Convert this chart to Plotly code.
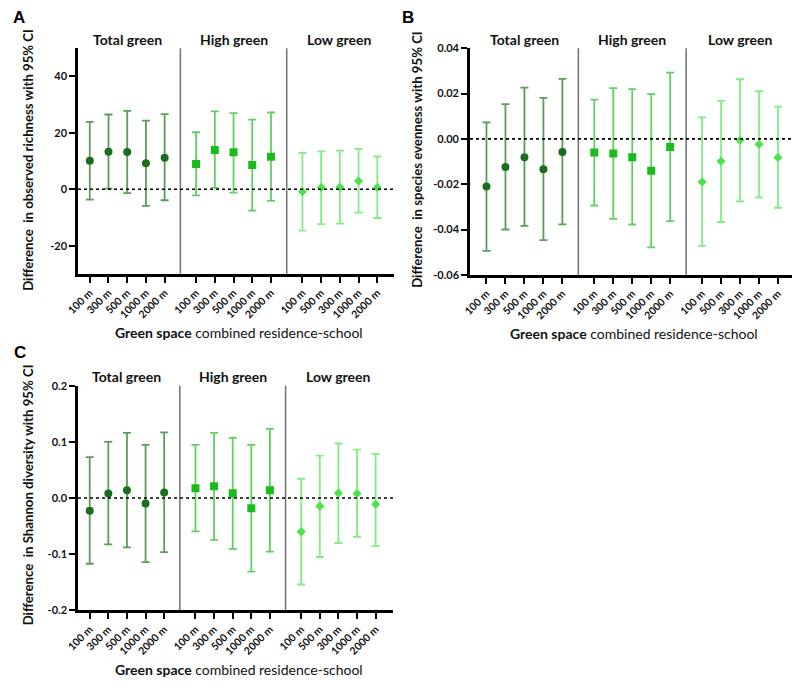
import plotly.graph_objects as go

# ---------------- data ----------------
groups = ["Total green", "High green", "Low green"]
dist_labels = [
    ["100 m", "300 m", "500 m", "1000 m", "2000 m"],
    ["100 m", "300 m", "500 m", "1000 m", "2000 m"],
    ["100 m", "500 m", "300 m", "1000 m", "2000 m"],
]

# Panel A: observed richness
rich_est = [[10.1, 13.3, 13.2, 9.2, 11.2], [8.9, 13.9, 13.1, 8.6, 11.5], [-0.9, 0.6, 0.7, 2.9, 0.6]]
rich_lo = [[-3.7, 0.2, -1.4, -5.9, -3.9], [-2.2, 0.5, -1.2, -7.6, -4.1], [-14.7, -12.4, -12.2, -8.3, -10.2]]
rich_hi = [[23.9, 26.5, 27.8, 24.3, 26.6], [20.2, 27.6, 27.0, 24.7, 27.2], [12.9, 13.4, 13.7, 14.3, 11.6]]

# Panel B: species evenness
even_est = [[-0.0210, -0.0124, -0.0081, -0.0134, -0.0058], [-0.0060, -0.0065, -0.0081, -0.0141, -0.0036], [-0.0190, -0.0099, -0.0006, -0.0024, -0.0082]]
even_lo = [[-0.0494, -0.0400, -0.0384, -0.0447, -0.0377], [-0.0294, -0.0353, -0.0378, -0.0479, -0.0363], [-0.0472, -0.0367, -0.0276, -0.0258, -0.0304]]
even_hi = [[0.0073, 0.0153, 0.0226, 0.0181, 0.0265], [0.0173, 0.0224, 0.0219, 0.0197, 0.0292], [0.0095, 0.0168, 0.0263, 0.0210, 0.0142]]

# Panel C: Shannon diversity
shan_est = [[-0.0227, 0.0081, 0.0140, -0.0099, 0.0099], [0.0174, 0.0209, 0.0087, -0.0180, 0.0140], [-0.0599, -0.0145, 0.0087, 0.0081, -0.0110]]
shan_lo = [[-0.117, -0.0826, -0.0878, -0.114, -0.0965], [-0.0593, -0.0744, -0.0907, -0.131, -0.0953], [-0.154, -0.105, -0.0802, -0.0692, -0.0855]]
shan_hi = [[0.0727, 0.100, 0.116, 0.0948, 0.117], [0.0948, 0.116, 0.107, 0.0948, 0.123], [0.0343, 0.0756, 0.0971, 0.0860, 0.0785]]

y_titles = [
    "Difference  in observed richness with 95% CI",
    "Difference  in species evenness with 95% CI",
    "Difference  in Shannon diversity with 95% CI",
]
y_ranges = [[-30, 50], [-0.06, 0.04], [-0.2, 0.2]]
y_ticks = [[-20, 0, 20, 40], [-0.06, -0.04, -0.02, 0.0, 0.02, 0.04], [-0.2, -0.1, 0.0, 0.1, 0.2]]
y_ticktext = [["-20", "0", "20", "40"],
              ["-0.06", "-0.04", "-0.02", "0.00", "0.02", "0.04"],
              ["-0.2", "-0.1", "0.0", "0.1", "0.2"]]
panel_letters = ["A", "B", "C"]
x_title_bold = "Green space"
x_title_rest = " combined residence-school"

# ---------------- style ----------------
W, H = 794, 686
FONT = "Lato"
marker_colors = ["#1b6e1b", "#1cbb1c", "#48e448"]
bar_colors = ["#5e9a5e", "#62cf62", "#84ec84"]
marker_symbols = ["circle", "square", "diamond"]
marker_sizes = [8, 8, 7]

# pixel boxes for panels: (left, right, top, bottom)
boxes = [(67, 388, 42, 272), (465, 792, 42, 273), (67, 387, 386, 615)]
xranges = [[-0.63, 16.26], [-0.87, 16.1], [-0.63, 16.3]]
GROUP_OFF = 5.68
ytitle_pos = [(16, 156), (411, 155), (16, 497)]
letter_pos = [(7, 11), (402, 11), (8, 352)]

def px_x(p):
    return p / W

def px_y(p):
    return 1 - p / H

panels = [(rich_est, rich_lo, rich_hi), (even_est, even_lo, even_hi), (shan_est, shan_lo, shan_hi)]

fig = go.Figure()
shapes = []
annotations = []

for pi, (est, lo, hi) in enumerate(panels):
    xa = "x" if pi == 0 else f"x{pi+1}"
    ya = "y" if pi == 0 else f"y{pi+1}"
    tickvals, ticktext = [], []
    for g in range(3):
        xs = [g * GROUP_OFF + i for i in range(5)]
        tickvals += xs
        ticktext += dist_labels[g]
        e = est[g]
        up = [h - v for h, v in zip(hi[g], e)]
        dn = [v - l for v, l in zip(e, lo[g])]
        fig.add_trace(go.Scatter(
            x=xs, y=e, mode="markers", xaxis=xa, yaxis=ya, showlegend=False,
            marker=dict(symbol=marker_symbols[g], size=marker_sizes[g], color=marker_colors[g]),
            error_y=dict(type="data", symmetric=False, array=up, arrayminus=dn,
                         color=bar_colors[g], thickness=1.8, width=4),
        ))
    l, r, t, b = boxes[pi]
    axkey = "xaxis" if pi == 0 else f"xaxis{pi+1}"
    aykey = "yaxis" if pi == 0 else f"yaxis{pi+1}"
    fig.update_layout(**{
        axkey: dict(domain=[px_x(l), px_x(r)], anchor=ya, range=xranges[pi],
                    tickvals=tickvals, ticktext=ticktext, tickangle=-45,
                    ticks="outside", ticklen=6, tickwidth=2.2, tickcolor="black",
                    showline=True, linewidth=2.5, linecolor="black", showgrid=False,
                    zeroline=False,
                    tickfont=dict(family=FONT, size=10.5, color="#111", weight="bold"),
                    fixedrange=True),
        aykey: dict(domain=[px_y(b), px_y(t)], anchor=xa, range=y_ranges[pi],
                    tickvals=y_ticks[pi], ticktext=y_ticktext[pi],
                    ticks="outside", ticklen=6, tickwidth=2.2, tickcolor="black",
                    showline=True, linewidth=2.5, linecolor="black", showgrid=False,
                    zeroline=False,
                    tickfont=dict(family=FONT, size=11, color="#111", weight="bold"),
                    fixedrange=True),
    })
    # group separators (midway between groups)
    for g in (1, 2):
        xsep = ((g - 1) * GROUP_OFF + 4 + g * GROUP_OFF) / 2
        shapes.append(dict(type="line", xref=xa, yref=f"{ya} domain", x0=xsep, x1=xsep,
                           y0=0, y1=1, line=dict(color="#707070", width=1.5)))
    # zero reference line
    shapes.append(dict(type="line", xref=f"{xa} domain", yref=ya, x0=0, x1=1, y0=0, y1=0,
                       line=dict(color="black", width=1.6, dash="dot")))
    # group labels
    for g in range(3):
        annotations.append(dict(x=g * GROUP_OFF + 2, y=px_y(t - 9), xref=xa, yref="paper",
                                text=f"<b>{groups[g]}</b>", showarrow=False,
                                font=dict(family=FONT, size=14, color="#111"),
                                xanchor="center", yanchor="middle"))
    # y-axis titles
    tx, ty = ytitle_pos[pi]
    annotations.append(dict(x=px_x(tx), y=px_y(ty), xref="paper", yref="paper",
                            text=f"<b>{y_titles[pi]}</b>", textangle=-90, showarrow=False,
                            font=dict(family=FONT, size=13.2, color="#111"),
                            xanchor="center", yanchor="middle"))
    # x-axis titles
    annotations.append(dict(x=px_x((l + r) / 2 + 3), y=px_y(b + 60), xref="paper", yref="paper",
                            text=f"<b>{x_title_bold}</b>{x_title_rest}", showarrow=False,
                            font=dict(family=FONT, size=14, color="#111"),
                            xanchor="center", yanchor="middle"))
    # panel letters
    lx, ly = letter_pos[pi]
    annotations.append(dict(x=px_x(lx), y=px_y(ly), xref="paper", yref="paper",
                            text=f"<b>{panel_letters[pi]}</b>", showarrow=False,
                            font=dict(family="Liberation Sans", size=17, color="black"),
                            xanchor="center", yanchor="middle"))

fig.update_layout(width=W, height=H, margin=dict(l=0, r=0, t=0, b=0),
                  paper_bgcolor="white", plot_bgcolor="white",
                  shapes=shapes, annotations=annotations, showlegend=False)

fig.write_html("out.html", config={"displayModeBar": False},
               post_script="document.body.style.margin='0';document.body.style.overflow='hidden';")
